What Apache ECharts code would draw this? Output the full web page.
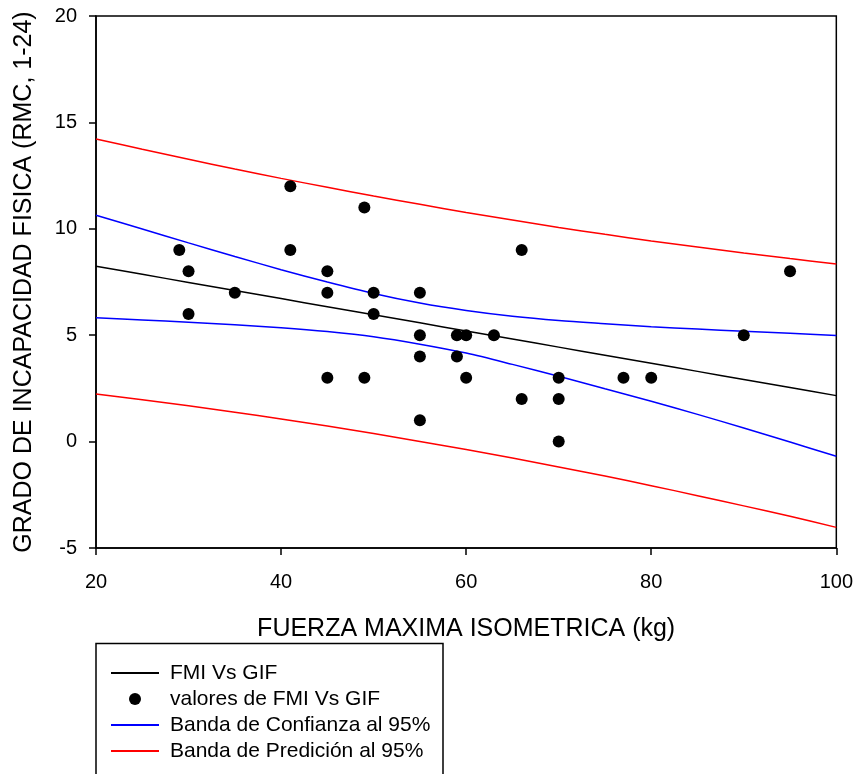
<!DOCTYPE html>
<html>
<head>
<meta charset="utf-8">
<script src="https://cdn.jsdelivr.net/npm/echarts@6/dist/echarts.min.js"></script>
<style>
  html, body { margin: 0; padding: 0; background: #fff; }
  #chart { width: 856px; height: 774px; }
</style>
</head>
<body>
<div id="chart"></div>
<script>
// Observed values: isometric maximal strength (kg) vs physical disability grade
const fuerza = [29, 30, 30, 35, 41, 41, 45, 45, 45, 49, 49, 50, 50, 55, 55, 55, 55, 59, 59, 60, 60, 63, 66, 66, 70, 70, 70, 77, 80, 90, 95];
const grado  = [9, 8, 6, 7, 12, 9, 8, 7, 3, 11, 3, 7, 6, 7, 5, 4, 1, 5, 4, 5, 3, 5, 9, 2, 3, 2, 0, 3, 3, 5, 8];

// Fitted line and 95% bands, sampled along the x range
const bandX   = [20, 25, 30, 35, 40, 45, 50, 55, 60, 65, 70, 75, 80, 85, 90, 95, 100];
const ajuste  = [8.24, 7.86, 7.48, 7.10, 6.72, 6.34, 5.96, 5.58, 5.20, 4.82, 4.44, 4.06, 3.68, 3.30, 2.92, 2.54, 2.16];
const confSup = [10.64, 9.99, 9.34, 8.70, 8.08, 7.50, 6.96, 6.51, 6.16, 5.89, 5.69, 5.54, 5.40, 5.29, 5.18, 5.09, 4.99];
const confInf = [5.82, 5.72, 5.61, 5.49, 5.35, 5.17, 4.93, 4.58, 4.16, 3.63, 3.07, 2.48, 1.90, 1.28, 0.64, -0.02, -0.69];
const predSup = [14.22, 13.74, 13.27, 12.81, 12.37, 11.95, 11.54, 11.15, 10.77, 10.41, 10.06, 9.74, 9.43, 9.14, 8.86, 8.60, 8.35];
const predInf = [2.24, 1.97, 1.68, 1.38, 1.06, 0.73, 0.38, 0.01, -0.37, -0.77, -1.19, -1.62, -2.07, -2.54, -3.02, -3.51, -4.03];

const xTicks = [20, 40, 60, 80, 100];
const yTicks = [-5, 0, 5, 10, 15, 20];

const FONT = "'Liberation Sans', Arial, sans-serif";
const pair = (xs, ys) => xs.map((x, i) => [x, ys[i]]);

const lineSeries = (name, ys, color) => ({
  name: name,
  type: 'line',
  data: pair(bandX, ys),
  symbol: 'none',
  smooth: 0.3,
  lineStyle: { color: color, width: 1.5 },
  itemStyle: { color: color },
  z: 2,
  silent: true
});

// legend entries for line series show the stroke only
const lineOnly = { color: 'rgba(0,0,0,0)', borderWidth: 0 };

const chart = echarts.init(document.getElementById('chart'), null, { renderer: 'canvas' });

chart.setOption({
  backgroundColor: '#ffffff',
  animation: false,
  textStyle: { fontFamily: FONT },
  grid: {
    left: 96, right: 19, top: 16, bottom: 226,
    show: true, borderColor: '#000', borderWidth: 1.5, backgroundColor: 'transparent'
  },
  xAxis: {
    type: 'value',
    min: xTicks[0], max: xTicks[xTicks.length - 1], interval: 20,
    name: 'FUERZA MAXIMA ISOMETRICA (kg)',
    nameLocation: 'middle', nameGap: 69,
    nameTextStyle: { color: '#000', fontSize: 25, fontFamily: FONT },
    axisLine: { show: true, onZero: false, lineStyle: { color: '#000', width: 1.5 } },
    axisTick: { show: true, inside: false, length: 7, lineStyle: { color: '#000', width: 1.5 } },
    axisLabel: { color: '#000', fontSize: 20, margin: 24, fontFamily: FONT },
    splitLine: { show: false }
  },
  yAxis: {
    type: 'value',
    min: yTicks[0], max: yTicks[yTicks.length - 1], interval: 5,
    name: 'GRADO DE INCAPACIDAD FISICA (RMC, 1-24)',
    nameLocation: 'middle', nameGap: 59, nameRotate: 90,
    nameTextStyle: { color: '#000', fontSize: 25, fontFamily: FONT },
    axisLine: { show: true, onZero: false, lineStyle: { color: '#000', width: 1.5 } },
    axisTick: { show: true, inside: false, length: 7, lineStyle: { color: '#000', width: 1.5 } },
    axisLabel: { color: '#000', fontSize: 20, margin: 19, fontFamily: FONT },
    splitLine: { show: false }
  },
  legend: {
    orient: 'vertical',
    left: 110, top: 662,
    padding: 0,
    itemWidth: 48, itemHeight: 12, itemGap: 4,
    selectedMode: false,
    textStyle: { color: '#000', fontSize: 21, lineHeight: 22, fontFamily: FONT, padding: [0, 0, 0, 6] },
    data: [
      { name: 'FMI Vs GIF', itemStyle: lineOnly },
      { name: 'valores de FMI Vs GIF', icon: 'circle' },
      { name: 'Banda de Confianza al 95%', itemStyle: lineOnly },
      { name: 'Banda de Predición al 95%', itemStyle: lineOnly }
    ]
  },
  graphic: [{
    type: 'rect',
    shape: { x: 96, y: 643.5, width: 347, height: 200 },
    style: { fill: 'none', stroke: '#000', lineWidth: 1.5 },
    silent: true
  }],
  series: [
    lineSeries('FMI Vs GIF', ajuste, '#000000'),
    {
      name: 'valores de FMI Vs GIF',
      type: 'scatter',
      data: pair(fuerza, grado),
      symbol: 'circle',
      symbolSize: 12,
      itemStyle: { color: '#000000', opacity: 1 },
      z: 5,
      silent: true
    },
    lineSeries('Banda de Confianza al 95%', confSup, '#0000ff'),
    lineSeries('Banda de Confianza al 95%', confInf, '#0000ff'),
    lineSeries('Banda de Predición al 95%', predSup, '#ff0000'),
    lineSeries('Banda de Predición al 95%', predInf, '#ff0000')
  ]
});
</script>
</body>
</html>
